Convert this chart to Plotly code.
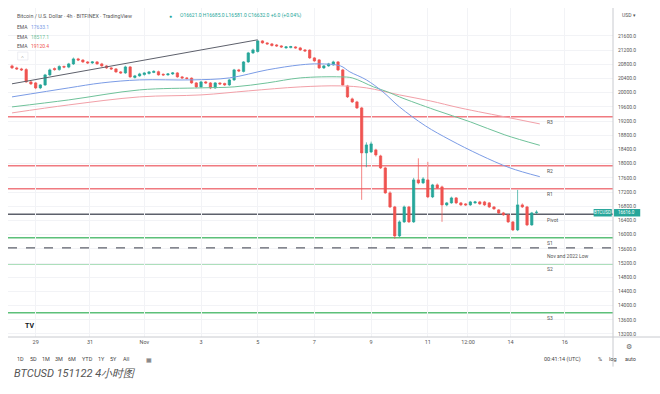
import plotly.graph_objects as go

# ---------------- data ----------------
candle_idx = list(range(112))
opens = [20755, 20698, 20670, 20650, 20304, 20275, 20135, 20219, 20501, 20680,
         20650, 20740, 20720, 20811, 20952, 20920, 20867, 20839, 20867, 20811,
         20755, 20698, 20670, 20586, 20557, 20726, 20430, 20473, 20510, 20540,
         20570, 20590, 20520, 20501, 20529, 20557, 20445, 20416, 20410, 20275,
         20163, 20304, 20275, 20135, 20275, 20260, 20219, 20360, 20642, 20600,
         20867, 21121, 21160, 21459, 21403, 21375, 21346, 21318, 21262, 21270,
         21290, 21262, 21205, 21200, 20980, 20924, 20698, 20755, 20783, 20867,
         20642, 20191, 19825, 19740, 19571, 18303, 18331, 18387, 18218, 17880,
         17176, 16781, 15964, 16359, 16781, 16359, 17542, 17458, 17542, 17063,
         17401, 17345, 16838, 16894, 17035, 16894, 16866, 16838, 16894, 16922,
         16922, 16894, 16781, 16697, 16612, 16556, 16359, 16133, 16838, 16781,
         16274, 16621]
highs = [20790, 20730, 20700, 20690, 20330, 20300, 20240, 20530, 20680, 20710,
         20770, 20760, 20840, 20990, 20980, 20940, 20890, 20890, 20890, 20840,
         20780, 20720, 20690, 20610, 20760, 20750, 20500, 20560, 20580, 20610,
         20630, 20620, 20540, 20550, 20580, 20580, 20470, 20440, 20430, 20300,
         20330, 20330, 20300, 20300, 20290, 20280, 20390, 20670, 20670, 20890,
         21150, 21240, 21480, 21480, 21420, 21400, 21370, 21340, 21310, 21320,
         21310, 21290, 21230, 21220, 21000, 20950, 20780, 20840, 20900, 20890,
         20670, 20220, 19860, 19770, 19600, 18600, 18620, 18420, 18250, 17910,
         17220, 16810, 16400, 16820, 16810, 17600, 18150, 17620, 18050, 17430,
         17440, 17380, 16920, 17070, 17060, 16920, 16890, 16950, 16950, 16950,
         16950, 16920, 16800, 16720, 16640, 16580, 16380, 17260, 16880, 16810,
         16640, 16685]
lows = [20670, 20640, 20610, 20280, 20220, 20100, 20100, 20190, 20470, 20620,
        20620, 20690, 20690, 20780, 20890, 20840, 20810, 20810, 20790, 20730,
        20670, 20640, 20560, 20530, 20530, 20420, 20400, 20450, 20480, 20510,
        20550, 20480, 20470, 20480, 20500, 20420, 20390, 20370, 20250, 20130,
        20140, 20250, 20100, 20110, 20220, 20190, 20190, 20330, 20580, 20570,
        20840, 21090, 21130, 21380, 21350, 21300, 21290, 21260, 21240, 21250,
        21240, 21180, 21150, 20950, 20870, 20670, 20670, 20730, 20760, 20610,
        20190, 19850, 19710, 19540, 16980, 17900, 18300, 18200, 17850, 17150,
        16750, 15880, 15930, 16330, 16330, 16330, 17420, 17430, 17030, 17030,
        17290, 16360, 16800, 16870, 16860, 16810, 16810, 16810, 16870, 16840,
        16810, 16750, 16700, 16580, 16530, 16330, 16100, 16100, 16750, 16240,
        16250, 16581]
closes = [20698, 20670, 20642, 20304, 20247, 20135, 20219, 20501, 20642, 20650,
          20740, 20720, 20811, 20952, 20920, 20867, 20839, 20867, 20811, 20755,
          20698, 20670, 20586, 20557, 20726, 20445, 20473, 20529, 20557, 20586,
          20600, 20501, 20501, 20529, 20557, 20445, 20416, 20400, 20275, 20163,
          20304, 20275, 20135, 20275, 20247, 20219, 20360, 20642, 20614, 20867,
          21121, 21205, 21459, 21403, 21375, 21330, 21318, 21290, 21290, 21300,
          21262, 21205, 21177, 20980, 20896, 20698, 20755, 20811, 20867, 20642,
          20219, 19881, 19740, 19571, 18303, 18528, 18557, 18247, 17880, 17176,
          16781, 15964, 16359, 16781, 16359, 17542, 17458, 17570, 17063, 17401,
          17317, 16838, 16894, 17035, 16894, 16838, 16838, 16922, 16922, 16866,
          16838, 16781, 16725, 16612, 16556, 16359, 16133, 16838, 16781, 16274,
          16612, 16632]

ema_fast_x = [0, 12, 19, 27, 38, 46, 54, 61, 65, 69.5, 71.5, 75, 78.5, 82, 87.5, 92.7, 99, 105.4, 111.7]
ema_fast_y = [19881, 20135, 20275, 20360, 20360, 20416, 20642, 20783, 20811, 20755, 20586, 20360, 20022, 19599, 19064, 18669, 18247, 17880, 17633]
ema_mid_x = [0, 12, 27, 40, 47, 54, 61, 69.5, 72, 76.5, 79.5, 82, 89.5, 97, 104.3, 111.7]
ema_mid_y = [19599, 19796, 20078, 20135, 20163, 20275, 20416, 20445, 20416, 20163, 20022, 19881, 19515, 19177, 18810, 18517]
ema_slow_x = [0, 12, 27, 40, 50, 61, 69.5, 75, 82, 88.5, 94.8, 105.4, 111.7]
ema_slow_y = [19430, 19655, 19881, 19937, 20050, 20163, 20191, 20135, 19937, 19768, 19571, 19289, 19120]

trend_x = [0, 52]
trend_y = [20250, 21490]

level_names = ["R3", "R2", "R1", "Pivot", "S1", "S2", "S3"]
level_values = [19320, 17940, 17290, 16575, 15910, 15180, 13800]
level_colors = ["#f07a80", "#f07a80", "#f07a80", "#5d606b", "#5cc079", "#5cc079", "#5cc079"]
low_2022 = 15625
low_label = "Nov and 2022 Low"

tick_pos = [5, 16.5, 28, 40, 52, 64, 76, 88, 96.5, 105.5, 117]
tick_text = ["29", "31", "Nov", "3", "5", "7", "9", "11", "12:00", "14", "16"]
price_ticks = list(range(13200, 21601, 400))

last_price = 16616.0
ema_labels = ["EMA", "EMA", "EMA"]
ema_values = ["17633.1", "18517.1", "19120.4"]
ohlc_text = "O16621.0 H16685.0 L16581.0 C16632.0 +6.0 (+0.04%)"
title_text = "Bitcoin / U.S. Dollar · 4h · BITFINEX · TradingView"
caption = "BTCUSD 151122 4小时图"
range_buttons = ["1D", "5D", "1M", "3M", "6M", "YTD", "1Y", "5Y", "All"]

UP = "#26a69a"
DOWN = "#ef5350"
BLUE = "#7b9ce6"
GREEN = "#6fc29a"
PINK = "#f2a0a8"
FONT = "Roboto"

# ---------------- figure ----------------
fig = go.Figure()

fig.add_trace(go.Candlestick(
    x=candle_idx, open=opens, high=highs, low=lows, close=closes,
    increasing=dict(line=dict(color=UP, width=0.7), fillcolor=UP),
    decreasing=dict(line=dict(color=DOWN, width=0.7), fillcolor=DOWN),
    whiskerwidth=0, showlegend=False, hoverinfo="skip"))

fig.add_trace(go.Scatter(x=ema_slow_x, y=ema_slow_y, mode="lines",
                         line=dict(color=PINK, width=1, shape="spline"), showlegend=False))
fig.add_trace(go.Scatter(x=ema_mid_x, y=ema_mid_y, mode="lines",
                         line=dict(color=GREEN, width=1, shape="spline"), showlegend=False))
fig.add_trace(go.Scatter(x=ema_fast_x, y=ema_fast_y, mode="lines",
                         line=dict(color=BLUE, width=1, shape="spline"), showlegend=False))
fig.add_trace(go.Scatter(x=trend_x, y=trend_y, mode="lines",
                         line=dict(color="#5d606b", width=1), showlegend=False))

shapes = []
for v, c in zip(level_values, level_colors):
    shapes.append(dict(type="line", xref="paper", x0=0, x1=1, yref="y", y0=v, y1=v,
                       line=dict(color=c, width=1.5), layer="below"))
shapes.append(dict(type="line", xref="paper", x0=0, x1=1, yref="y", y0=low_2022, y1=low_2022,
                   line=dict(color="#5d606b", width=1.2, dash="dash")))
# last price tags
shapes.append(dict(type="rect", xref="paper", x0=0.968, x1=0.998, yref="y",
                   y0=last_price - 105, y1=last_price + 105,
                   fillcolor="#26a69a", line=dict(width=0)))
shapes.append(dict(type="rect", xref="paper", x0=1.0017, x1=1.045, yref="y",
                   y0=last_price - 105, y1=last_price + 105,
                   fillcolor="#26a69a", line=dict(width=0)))
# axis frame lines
shapes.append(dict(type="line", xref="paper", x0=1, x1=1, yref="paper", y0=-0.09, y1=1.0,
                   line=dict(color="#c8cacf", width=1)))
shapes.append(dict(type="line", xref="paper", x0=0, x1=1.1, yref="paper", y0=0, y1=0,
                   line=dict(color="#c8cacf", width=1)))
# collapse button
shapes.append(dict(type="rect", xref="paper", x0=0.016, x1=0.033, yref="paper", y0=0.842, y1=0.866,
                   line=dict(color="#e0e3eb", width=0.6), fillcolor="white"))

ann = []
def txt(x, y, t, size=5.5, color="#4a4a4a", xanchor="left", xref="paper", yref="paper", **kw):
    ann.append(dict(x=x, y=y, text=t, xref=xref, yref=yref, showarrow=False,
                    xanchor=xanchor, yanchor="middle", font=dict(size=size, color=color, family=FONT), **kw))

txt(0.0116, 0.976, title_text, size=5.3, color="#555")
txt(0.262, 0.976, "●", size=5, color=UP)
txt(0.281, 0.976, ohlc_text, size=5, color=UP)
for k, (lab, val, col) in enumerate(zip(ema_labels, ema_values, [BLUE, GREEN, "#ef5350"])):
    yy = [0.942, 0.912, 0.884][k]
    txt(0.0116, yy, lab, size=5, color="#555")
    txt(0.035, yy, val, size=5, color=col)
txt(0.0245, 0.854, "˄", size=5, color="#555", xanchor="center")

for name, v in zip(level_names, level_values):
    txt(112.8, v - 150, name, size=5, color="#555", xref="x", yref="y")
txt(112.8, low_2022 - 230, low_label, size=5, color="#555", xref="x", yref="y")

txt(0.983, last_price, "BTCUSD", size=4.5, color="white", xanchor="center", yref="y")
txt(1.023, last_price, f"{last_price:.1f}", size=4.5, color="white", xanchor="center", yref="y")
txt(1.012, 0.979, "USD ▾", size=5, color="#555")

txt(0.024, 0.033, "<b>TV</b>", size=7, color="#131722")

bx = [20, 33, 46, 59, 72, 87, 101, 113, 126]
for b, px in zip(range_buttons, bx):
    txt((px - 8) / 605, -0.067, b, size=5.5, color="#444", xanchor="center")
txt((149 - 8) / 605, -0.067, "▦", size=6, color="#666", xanchor="center")
txt((562 - 8) / 605, -0.067, "00:41:14 (UTC)", size=5.5, color="#444", xanchor="center")
txt((600 - 8) / 605, -0.067, "%", size=5.5, color="#444", xanchor="center")
txt((613 - 8) / 605, -0.067, "log", size=5.5, color="#444", xanchor="center")
txt((630 - 8) / 605, -0.067, "auto", size=5.5, color="#444", xanchor="center")
txt((629 - 8) / 605, -0.029, "⚙", size=7, color="#666", xanchor="center")

txt(0.0066, -0.112, f"<i>{caption}</i>", size=11, color="#555", xanchor="left")

fig.update_layout(
    width=660, height=394,
    margin=dict(l=8, r=47, t=8, b=57),
    paper_bgcolor="white", plot_bgcolor="white",
    showlegend=False,
    shapes=shapes, annotations=ann,
    font=dict(family=FONT, size=5.5, color="#555"),
    xaxis=dict(range=[-0.85, 127.19], tickmode="array", tickvals=tick_pos, ticktext=tick_text,
               showgrid=True, gridcolor="#f2f3f6", gridwidth=1, zeroline=False,
               showline=False, ticks="", tickfont=dict(size=5.5, color="#555"),
               rangeslider=dict(visible=False), fixedrange=True),
    yaxis=dict(side="right", range=[13115, 22386], tickmode="array", tickvals=price_ticks,
               ticktext=[f"{p:.1f}" for p in price_ticks],
               showgrid=True, gridcolor="#f2f3f6", zeroline=False, showline=False,
               ticks="", tickfont=dict(size=5, color="#555"), ticklabelstandoff=4,
               fixedrange=True),
)

fig.write_html("out.html", config={"displayModeBar": False},
               post_script="document.body.style.margin='0';document.body.style.overflow='hidden';")
